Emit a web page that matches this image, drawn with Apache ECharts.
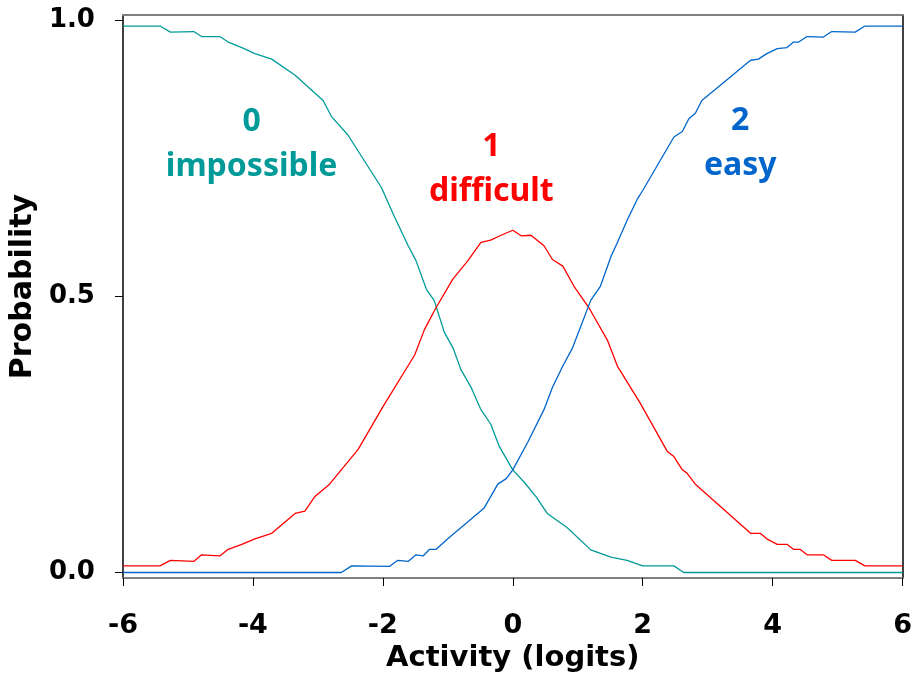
<!DOCTYPE html>
<html>
<head>
<meta charset="utf-8">
<script src="https://cdn.jsdelivr.net/npm/echarts@6/dist/echarts.min.js"></script>
<style>
  html, body { margin: 0; padding: 0; background: #fff; }
  #box { width: 915px; height: 678px; }
</style>
</head>
<body>
<div id="box"></div>
<script>
// category probability curves, [logit, probability]
var impossibleCurve = [
  [-6, 0.990], [-5.43, 0.990], [-5.27, 0.979], [-4.91, 0.980], [-4.79, 0.971], [-4.51, 0.971],
  [-4.38, 0.961], [-4.17, 0.951], [-3.97, 0.940], [-3.71, 0.930], [-3.35, 0.901], [-2.92, 0.855],
  [-2.79, 0.826], [-2.54, 0.793], [-2.02, 0.697], [-1.82, 0.644], [-1.61, 0.592], [-1.49, 0.565],
  [-1.33, 0.513], [-1.21, 0.493], [-1.05, 0.434], [-0.92, 0.407], [-0.80, 0.368], [-0.64, 0.335],
  [-0.49, 0.295], [-0.34, 0.269], [-0.21, 0.229], [0, 0.186], [0.18, 0.163], [0.36, 0.137],
  [0.53, 0.107], [0.84, 0.081], [1.20, 0.041], [1.51, 0.028], [1.76, 0.022], [2.0, 0.012],
  [2.48, 0.012], [2.63, 0], [6, 0]
];
var difficultCurve = [
  [-6, 0.012], [-5.43, 0.012], [-5.27, 0.022], [-4.91, 0.020], [-4.79, 0.032], [-4.51, 0.030],
  [-4.38, 0.042], [-4.17, 0.051], [-3.97, 0.061], [-3.71, 0.071], [-3.35, 0.107], [-3.20, 0.111],
  [-3.05, 0.137], [-2.82, 0.160], [-2.64, 0.186], [-2.38, 0.223], [-2.0, 0.300], [-1.51, 0.394],
  [-1.36, 0.440], [-1.18, 0.480], [-0.92, 0.532], [-0.69, 0.565], [-0.49, 0.598], [-0.34, 0.602],
  [-0.18, 0.611], [0, 0.620], [0.13, 0.610], [0.28, 0.611], [0.48, 0.592], [0.61, 0.567],
  [0.77, 0.555], [0.94, 0.519], [1.17, 0.480], [1.46, 0.420], [1.61, 0.374], [1.97, 0.305],
  [2.38, 0.219], [2.48, 0.210], [2.61, 0.186], [2.68, 0.180], [2.81, 0.160], [3.66, 0.071],
  [3.81, 0.071], [3.91, 0.061], [4.07, 0.051], [4.22, 0.051], [4.32, 0.042], [4.42, 0.042],
  [4.53, 0.032], [4.78, 0.032], [4.91, 0.022], [5.27, 0.022], [5.42, 0.012], [6, 0.012]
];
var easyCurve = [
  [-6, 0], [-2.64, 0], [-2.48, 0.012], [-1.90, 0.011], [-1.77, 0.022], [-1.61, 0.020],
  [-1.49, 0.032], [-1.38, 0.030], [-1.28, 0.042], [-1.18, 0.042], [-1.0, 0.061], [-0.44, 0.117],
  [-0.23, 0.160], [-0.10, 0.170], [0, 0.186], [0.23, 0.236], [0.48, 0.295], [0.61, 0.335],
  [0.77, 0.374], [0.92, 0.407], [1.05, 0.447], [1.20, 0.493], [1.35, 0.519], [1.51, 0.572],
  [1.61, 0.598], [1.76, 0.638], [1.92, 0.677], [2.0, 0.692], [2.48, 0.789], [2.61, 0.799],
  [2.71, 0.822], [2.81, 0.832], [2.91, 0.855], [3.66, 0.928], [3.78, 0.930], [3.91, 0.940],
  [4.07, 0.949], [4.22, 0.951], [4.32, 0.961], [4.40, 0.961], [4.53, 0.971], [4.78, 0.970],
  [4.91, 0.980], [5.27, 0.979], [5.42, 0.990], [6, 0.990]
];
var yTicks = [0, 0.5, 1];
// category captions, placed in data space
var captionCodes = ["0", "1", "2"];
var captionNames = ["impossible", "difficult", "easy"];
var captionPos = [[-4.02, 0.776], [-0.33, 0.730], [3.5, 0.778]];

var colors = ["#009b98", "#ff0000", "#0066cc"];
var boldFont = "DejaVu Sans, Liberation Sans, sans-serif";
var capFont = "Comic Sans MS, Noto Sans, sans-serif";

var chart = echarts.init(document.getElementById("box"), null, { renderer: "canvas" });

function curve(data, color) {
  return {
    type: "line",
    data: data,
    symbol: "none",
    silent: true,
    lineStyle: { color: color, width: 1.3 }
  };
}

var captions = captionPos.map(function (p, i) {
  return {
    value: p,
    name: captionCodes[i] + "\n" + captionNames[i],
    label: { color: colors[i] }
  };
});

var option = {
  animation: false,
  grid: { left: 121, right: 12, top: 15, bottom: 100 },
  xAxis: [
    {
      type: "value", min: -6, max: 6, interval: 2,
      splitLine: { show: false },
      axisLine: { onZero: false, lineStyle: { color: "#808080", width: 2 } },
      axisTick: { length: 8, lineStyle: { color: "#000", width: 1 } },
      axisLabel: { margin: 34, fontSize: 27, fontWeight: "bold", color: "#000", fontFamily: boldFont },
      name: "Activity (logits)",
      nameLocation: "middle",
      nameGap: 60,
      nameTextStyle: { fontSize: 29, fontWeight: "bold", color: "#000", fontFamily: boldFont }
    },
    {
      type: "value", min: -6, max: 6, position: "top",
      splitLine: { show: false },
      axisLine: { show: true, onZero: false, lineStyle: { color: "#808080", width: 2 } },
      axisTick: { show: false },
      axisLabel: { show: false }
    }
  ],
  yAxis: [
    {
      type: "value", min: -0.01, max: 1.01,
      splitLine: { show: false },
      axisLine: { show: true, onZero: false, lineStyle: { color: "#000", width: 1.5 } },
      axisTick: { show: true, length: 8, customValues: yTicks, lineStyle: { color: "#000" } },
      axisLabel: {
        customValues: yTicks, margin: 28, fontSize: 26, fontWeight: "bold",
        color: "#000", fontFamily: boldFont,
        formatter: function (v) { return v.toFixed(1); }
      },
      name: "Probability",
      nameLocation: "middle",
      nameRotate: 90,
      nameGap: 70,
      nameTextStyle: {
        fontSize: 30, fontWeight: "bold", color: "#000", fontFamily: boldFont,
        padding: [0, 0, 0, 20]
      }
    },
    {
      type: "value", min: -0.01, max: 1.01, position: "right",
      splitLine: { show: false },
      axisLine: { show: true, onZero: false, lineStyle: { color: "#000", width: 1.5 } },
      axisTick: { show: false },
      axisLabel: { show: false }
    }
  ],
  series: [
    curve(impossibleCurve, colors[0]),
    curve(difficultCurve, colors[1]),
    curve(easyCurve, colors[2]),
    {
      type: "scatter",
      data: captions,
      symbolSize: 0,
      silent: true,
      itemStyle: { opacity: 1 },
      label: {
        show: true,
        position: "inside",
        formatter: "{b}",
        fontSize: 32,
        fontWeight: "bold",
        lineHeight: 45,
        opacity: 1,
        fontFamily: capFont
      }
    }
  ]
};

chart.setOption(option);
</script>
</body>
</html>
